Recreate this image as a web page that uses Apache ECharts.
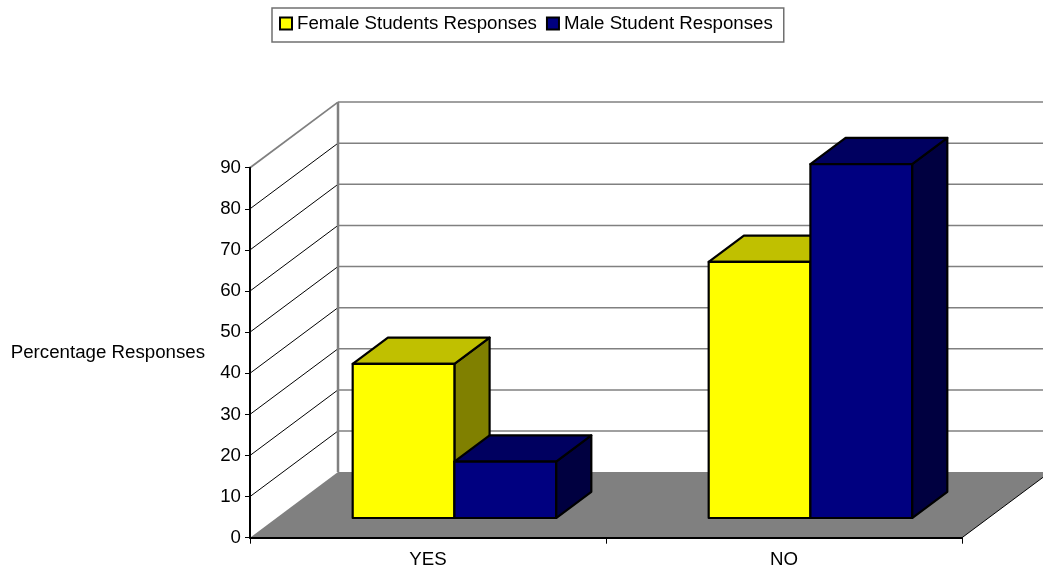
<!DOCTYPE html>
<html>
<head>
<meta charset="utf-8">
<style>html,body{margin:0;padding:0;background:#fff}#chart{width:1043px;height:570px}</style>
<script src="https://cdn.jsdelivr.net/npm/echarts@6/dist/echarts.min.js"></script>
</head>
<body>
<div id="chart"></div>
<script>
const categories = ['YES', 'NO'];
const femaleValues = [37.5, 62.3];
const maleValues = [13.7, 86.1];
const wallTicks = [0, 10, 20, 30, 40, 50, 60, 70, 80, 90];
const femaleName = 'Female Students Responses';
const maleName = 'Male Student Responses';

// Oblique projection of the chart box: how far the back wall sits from the front plane.
const DEPTH_X = 88;
const DEPTH_Y = 65.6;
const BAR_FRONT = 0.3;
const BAR_BACK = 0.7;
const BAR_SHARE = 1 / 3.5;
const FONT = '"Liberation Sans", Arial, sans-serif';
const FONT_SIZE = 18.7;

const chart = echarts.init(document.getElementById('chart'), null, { renderer: 'canvas' });

function poly(points, fill, stroke, lineWidth) {
  return { type: 'polygon', shape: { points },
    style: { fill, stroke: stroke || 'none', lineWidth: lineWidth || 0, lineJoin: 'round' } };
}
function seg(a, b, stroke, lineWidth) {
  return { type: 'line', shape: { x1: a[0], y1: a[1], x2: b[0], y2: b[1] },
    style: { stroke, lineWidth } };
}

// Floor plus side and back walls with their gridlines.
function renderRoom(params, api) {
  if (params.dataIndex !== 0) return null;
  const children = [];
  const last = categories.length - 0.5;
  const x0 = api.coord([0, 0])[0] - api.size([1, 0])[0] / 2;
  const x1 = api.coord([0, 0])[0] + api.size([1, 0])[0] * (last);
  const y0 = api.coord([0, 0])[1];
  children.push(poly([[x0, y0], [x1, y0], [x1 + DEPTH_X, y0 - DEPTH_Y], [x0 + DEPTH_X, y0 - DEPTH_Y]], '#808080'));
  wallTicks.forEach(function (t, i) {
    const y = api.coord([0, t])[1];
    const top = i === wallTicks.length - 1;
    if (i > 0) {
      children.push(seg([x0, y], [x0 + DEPTH_X, y - DEPTH_Y], top ? '#808080' : '#000', top ? 1.8 : 1));
      children.push(seg([x0 + DEPTH_X, y - DEPTH_Y], [x1 + DEPTH_X, y - DEPTH_Y], '#808080', 1.5));
    }
  });
  const yTop = api.coord([0, wallTicks[wallTicks.length - 1]])[1];
  children.push(seg([x0 + DEPTH_X, yTop - DEPTH_Y], [x0 + DEPTH_X, y0 - DEPTH_Y], '#808080', 2.5));
  children.push(seg([x1, y0], [x1 + DEPTH_X, y0 - DEPTH_Y], '#000', 1));
  return { type: 'group', children };
}

// One extruded bar: side and top faces first, then the front face.
function barRenderer(slot, faceColor, topColor, sideColor) {
  return function (params, api) {
    const cat = api.value(0);
    const val = api.value(1);
    const base = api.coord([cat, 0]);
    const head = api.coord([cat, val]);
    const w = api.size([1, 0])[0] * BAR_SHARE;
    const fx = DEPTH_X * BAR_FRONT, fy = DEPTH_Y * BAR_FRONT;
    const bx = DEPTH_X * (BAR_BACK - BAR_FRONT), by = DEPTH_Y * (BAR_BACK - BAR_FRONT);
    const l = base[0] + (slot - 1) * w + fx;
    const r = l + w;
    const b = base[1] - fy;
    const t = head[1] - fy;
    const stroke = '#000', lw = 2.2;
    return { type: 'group', children: [
      poly([[r, b], [r + bx, b - by], [r + bx, t - by], [r, t]], sideColor, stroke, lw),
      poly([[l, t], [r, t], [r + bx, t - by], [l + bx, t - by]], topColor, stroke, lw),
      poly([[l, b], [r, b], [r, t], [l, t]], faceColor, stroke, lw)
    ] };
  };
}

chart.setOption({
  animation: false,
  backgroundColor: '#fff',
  grid: { left: 250, top: 167.7, width: 712, height: 370, containLabel: false },
  legend: {
    left: 272, top: 8, padding: [6, 11, 9, 7], itemGap: 9, itemWidth: 12, itemHeight: 12,
    borderColor: '#707070', borderWidth: 1.5, backgroundColor: '#fff', icon: 'rect',
    data: [femaleName, maleName],
    textStyle: { fontFamily: FONT, fontSize: FONT_SIZE, color: '#000' },
    itemStyle: { borderColor: '#000', borderWidth: 2 },
    selectedMode: false
  },
  xAxis: {
    type: 'category', data: categories, z: 5,
    axisLine: { lineStyle: { color: '#000', width: 2 } },
    axisTick: { show: true, length: 6, alignWithLabel: false, lineStyle: { color: '#000', width: 1 } },
    axisLabel: { fontFamily: FONT, fontSize: FONT_SIZE, color: '#000', margin: 13 },
    splitLine: { show: false }
  },
  yAxis: {
    type: 'value', min: 0, max: 90, interval: 10, z: 5,
    name: 'Percentage Responses', nameLocation: 'middle', nameRotate: 0, nameGap: 45,
    nameTextStyle: { fontFamily: FONT, fontSize: FONT_SIZE, color: '#000', align: 'right' },
    axisLine: { show: true, lineStyle: { color: '#000', width: 2 } },
    axisTick: { show: true, length: 5, lineStyle: { color: '#000', width: 1 } },
    axisLabel: { fontFamily: FONT, fontSize: FONT_SIZE, color: '#000', margin: 9 },
    splitLine: { show: false }
  },
  series: [
    { type: 'custom', name: 'room', silent: true, clip: false, z: 1,
      renderItem: renderRoom, data: [[0, 0]], encode: { x: 0, y: 1 }, itemStyle: { color: '#808080' } },
    { type: 'custom', name: femaleName, clip: false, z: 2,
      renderItem: barRenderer(0, '#FFFF00', '#C0C000', '#808000'),
      data: femaleValues.map(function (v, i) { return [i, v]; }), encode: { x: 0, y: 1 },
      itemStyle: { color: '#FFFF00' } },
    { type: 'custom', name: maleName, clip: false, z: 3,
      renderItem: barRenderer(1, '#000080', '#000060', '#000040'),
      data: maleValues.map(function (v, i) { return [i, v]; }), encode: { x: 0, y: 1 },
      itemStyle: { color: '#000080' } }
  ]
});
</script>
</body>
</html>
